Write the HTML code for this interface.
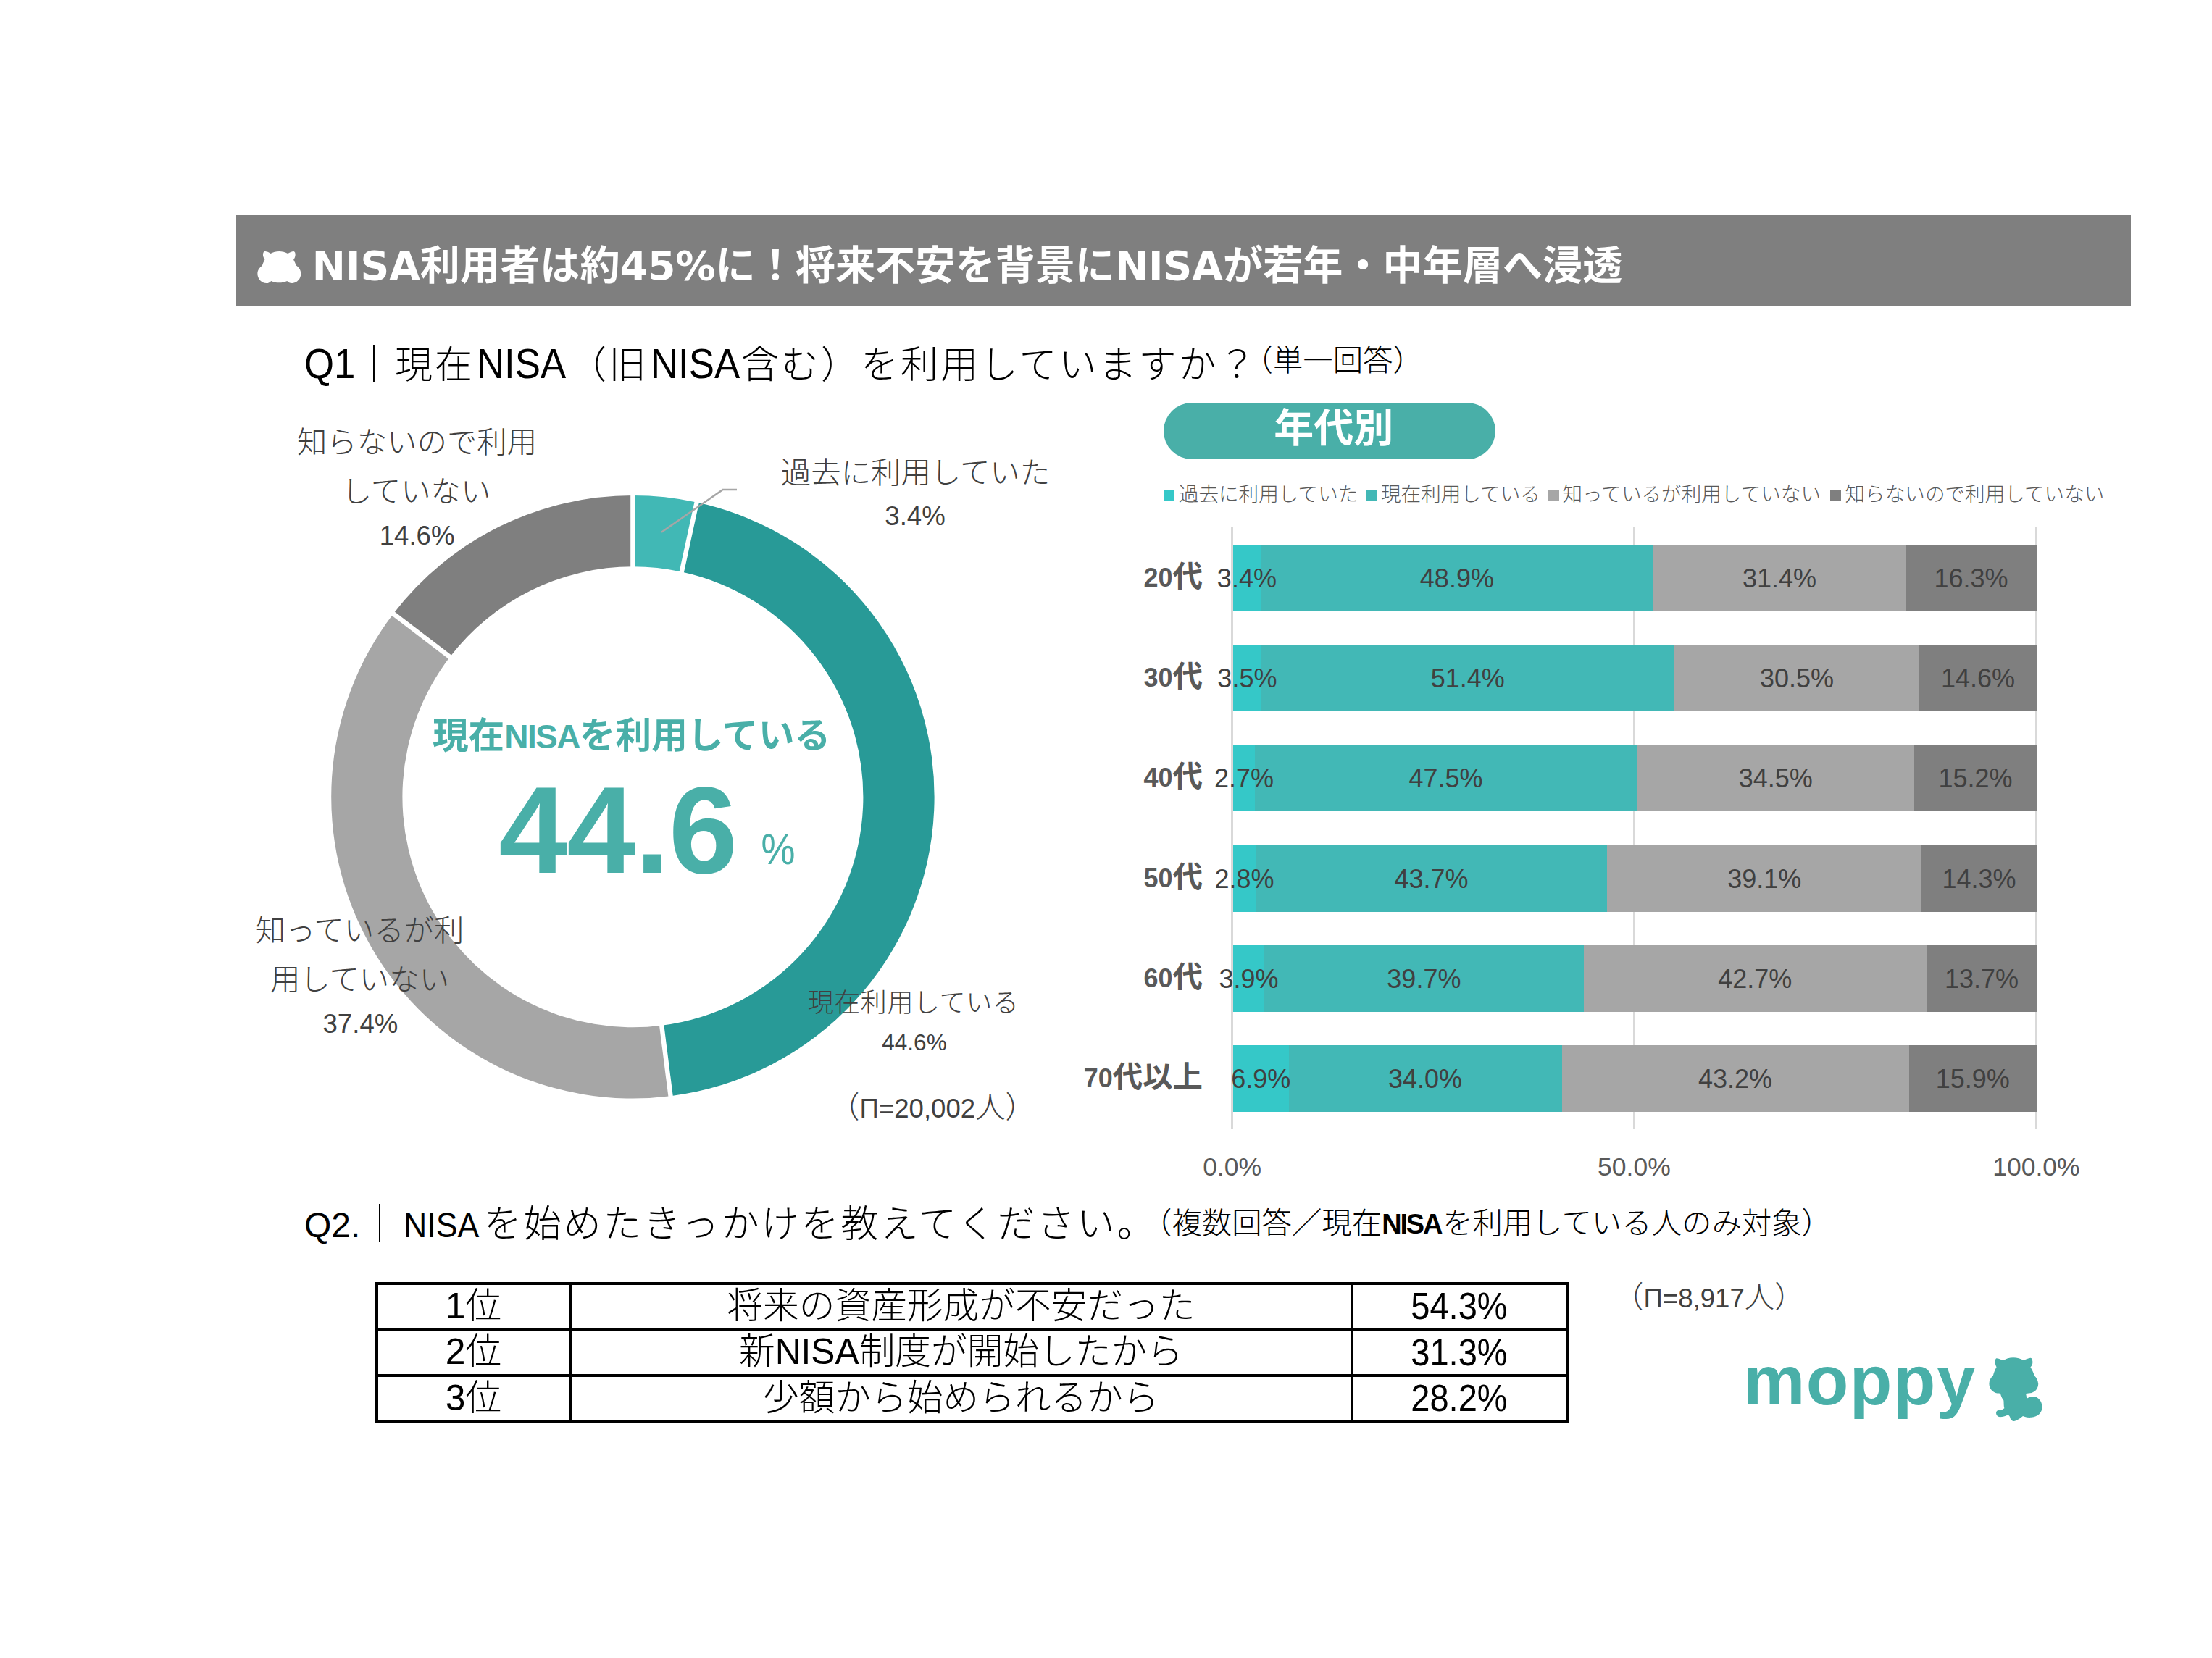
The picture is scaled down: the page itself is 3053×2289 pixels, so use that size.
<!DOCTYPE html><html lang="ja"><head><meta charset="utf-8"><title>NISA利用者調査</title><style>
html,body{margin:0;padding:0;background:#fff;}
body{width:3053px;height:2289px;position:relative;overflow:hidden;font-family:"Liberation Sans","Noto Sans CJK JP",sans-serif;color:#000;}
.a{position:absolute;white-space:nowrap;line-height:1;}
.c{position:absolute;white-space:nowrap;line-height:1;text-align:center;}
.r{position:absolute;white-space:nowrap;line-height:1;text-align:right;}
.lt{font-weight:300;}
.b{font-weight:700;}
.hd{font-family:"DejaVu Sans","Noto Sans CJK JP",sans-serif;font-weight:700;color:#fff;font-size:55px;}
.q{font-weight:300;font-size:52px;letter-spacing:3px;}
.L{display:inline-block;font-size:58px;letter-spacing:0;transform:scaleX(.91);transform-origin:0 50%;white-space:nowrap;}
.L2{display:inline-block;font-size:48px;font-weight:400;letter-spacing:0;transform-origin:0 50%;white-space:nowrap;}
.qs{font-weight:300;font-size:41.4px;}
.dl{font-weight:300;font-size:41.4px;color:#404040;}
.dn{font-weight:400;font-size:36.6px;color:#404040;}
.cat{font-weight:700;font-size:41.4px;color:#595959;}
.cat i{font-style:normal;font-size:36px;}
.v{font-size:36px;color:#404040;}
.ax{font-size:35.5px;color:#595959;}
.lg{font-weight:300;font-size:27.6px;color:#595959;}
.sq{position:absolute;width:14.5px;height:14.5px;}
.bar{position:absolute;height:92px;}
.ln{position:absolute;background:#000;}
.td{font-weight:300;font-size:49.7px;}
</style></head><body>
<div id="hbar" style="position:absolute;left:326px;top:297px;width:2615px;height:125px;background:#7f7f7f;"></div>
<svg id="hicon" style="position:absolute;left:340px;top:330px;" width="100" height="75" viewBox="0 0 100 75"><path fill="#fff" d="M25.3 16.7 C23.6 17.4 22.6 20 23 22.6 C23.4 25 24.3 26.9 25.4 28.4 C23.8 31.2 22.6 34.2 21.7 37.1 C17.6 39.6 15.3 43.6 15.4 48 C15.6 55.3 21 61 27.8 61.1 C30.4 61.1 32.6 59.9 34.2 58 C37.6 59.6 41.3 60.3 45.2 60.3 C49.1 60.3 52.8 59.6 56.3 58 C58 59.9 60.4 61 63.3 60.9 C70 60.6 75.4 55 75.3 47.6 C75.2 43.2 72.8 39.2 68.7 36.6 C67.8 33.8 66.6 31 65.1 28.5 C66.4 26.9 67.4 24.8 67.6 22.3 C67.8 19.6 67.1 17.4 65.6 16.9 C62.6 17.2 59.7 18.3 57.2 19.9 C53.6 18 49.5 17 45.2 17 C41 17 37 18 33.5 19.9 C31 18.2 28.2 17 25.3 16.7 Z"/></svg>
<div id="htitle" class="a hd" style="left:430.8px;top:340px;font-size:55.15px;">NISA利用者は約45%に！将来不安を背景にNISAが若年・中年層へ浸透</div>
<div id="q1" class="a q" style="left:419.5px;top:472.5px;"><span class="L" style="width:70.5px;">Q1</span>｜現在<span class="L" style="width:127px;margin-left:3px;">NISA</span>（旧<span class="L" style="width:125px;margin-left:3px;">NISA</span>含む）を利用していますか？</div>
<div id="q1s" class="a qs" style="left:1715.5px;top:478px;">（単一回答）</div>
<svg id="donut" style="position:absolute;left:0;top:0;" width="3053" height="2289" viewBox="0 0 3053 2289"><path fill="#41b8b5" d="M873.40 684.10 A416.2 416.2 0 0 1 961.64 693.56 L940.82 789.53 A318.0 318.0 0 0 0 873.40 782.30 Z"/><path fill="#289a97" d="M961.64 693.56 A416.2 416.2 0 0 1 925.56 1513.22 L913.26 1415.79 A318.0 318.0 0 0 0 940.82 789.53 Z"/><path fill="#a6a6a6" d="M925.56 1513.22 A416.2 416.2 0 0 1 542.94 847.28 L620.91 906.98 A318.0 318.0 0 0 0 913.26 1415.79 Z"/><path fill="#7f7f7f" d="M542.94 847.28 A416.2 416.2 0 0 1 873.40 684.10 L873.40 782.30 A318.0 318.0 0 0 0 620.91 906.98 Z"/><line x1="873.40" y1="680.10" x2="873.40" y2="786.30" stroke="#fff" stroke-width="6.4"/><line x1="962.49" y1="689.65" x2="939.97" y2="793.44" stroke="#fff" stroke-width="6.4"/><line x1="926.07" y1="1517.19" x2="912.75" y2="1411.82" stroke="#fff" stroke-width="6.4"/><line x1="539.77" y1="844.85" x2="624.09" y2="909.41" stroke="#fff" stroke-width="6.4"/><polyline points="913,734.8 997.6,676 1017,676" fill="none" stroke="#a6a6a6" stroke-width="2.6"/></svg>
<div id="l1a" class="c dl" style="left:225.5px;top:591.0px;width:700px;">知らないので利用</div>
<div id="l1b" class="c dl" style="left:224.5px;top:658.5px;width:700px;">していない</div>
<div id="l1c" class="c dn" style="left:225.6px;top:722.0px;width:700px;">14.6%</div>
<div id="l2a" class="c dl" style="left:913.5px;top:632.5px;width:700px;">過去に利用していた</div>
<div id="l2b" class="c dn" style="left:913.0px;top:695.0px;width:700px;">3.4%</div>
<div id="l3a" class="c dl" style="left:146.5px;top:1265.0px;width:700px;">知っているが利</div>
<div id="l3b" class="c dl" style="left:146.5px;top:1333.0px;width:700px;">用していない</div>
<div id="l3c" class="c dn" style="left:147.4px;top:1396.0px;width:700px;">37.4%</div>
<div id="l4a" class="c dl" style="left:910.5px;top:1367.0px;width:700px;font-size:36px;letter-spacing:0.6px;">現在利用している</div>
<div id="l4b" class="c dn" style="left:912.0px;top:1424.0px;width:700px;font-size:31.5px;">44.6%</div>
<div id="n1" class="c dl" style="left:937.0px;top:1509.0px;width:700px;font-size:41.4px;">（<span style="font-weight:400;font-size:36.6px;">Π=20,002</span>人）</div>
<div id="c1" class="c b" style="left:471.5px;top:992.0px;width:800px;font-size:49.7px;color:#49afa8;">現在<span style="font-size:46px;letter-spacing:-1.6px;">NISA</span>を利用している</div>
<div id="c2" class="c b" style="left:552.7px;top:1060.0px;width:600px;font-size:171px;letter-spacing:-1px;color:#49afa8;">44.6</div>
<div id="c3" class="c " style="left:973.6px;top:1142.5px;width:200px;font-size:60px;transform:scaleX(.88);color:#49afa8;">%</div>
<div id="pill" style="position:absolute;left:1606px;top:556px;width:458px;height:78px;border-radius:39px;background:#49afa8;"></div>
<div id="pillt" class="c b" style="left:1611.8px;top:563.5px;width:458px;font-size:55px;color:#fff;">年代別</div>
<div class="sq" style="left:1606px;top:677.3px;background:#35c8c8;"></div>
<div id="lg0" class="a lg" style="left:1626.8px;top:669px;">過去に利用していた</div>
<div class="sq" style="left:1885px;top:677.3px;background:#42b8b6;"></div>
<div id="lg1" class="a lg" style="left:1906.0px;top:669px;">現在利用している</div>
<div class="sq" style="left:2137px;top:677.3px;background:#a6a6a6;"></div>
<div id="lg2" class="a lg" style="left:2156.5px;top:669px;">知っているが利用していない</div>
<div class="sq" style="left:2526px;top:677.3px;background:#7f7f7f;"></div>
<div id="lg3" class="a lg" style="left:2546.5px;top:669px;">知らないので利用していない</div>
<div style="position:absolute;left:1699.2px;top:728px;width:2.8px;height:830.7px;background:#d9d9d9;"></div>
<div style="position:absolute;left:2254.0px;top:728px;width:2.8px;height:830.7px;background:#d9d9d9;"></div>
<div style="position:absolute;left:2809.0px;top:728px;width:2.8px;height:830.7px;background:#d9d9d9;"></div>
<div class="bar" style="left:1702.0px;top:751.6px;width:38.0px;background:#35c8c8;"></div>
<div class="bar" style="left:1739.7px;top:751.6px;width:542.6px;background:#42b8b6;"></div>
<div class="bar" style="left:2282.0px;top:751.6px;width:348.5px;background:#a6a6a6;"></div>
<div class="bar" style="left:2630.2px;top:751.6px;width:181.1px;background:#7f7f7f;"></div>
<div class="bar" style="left:1702.0px;top:889.9px;width:39.1px;background:#35c8c8;"></div>
<div class="bar" style="left:1740.8px;top:889.9px;width:570.3px;background:#42b8b6;"></div>
<div class="bar" style="left:2310.8px;top:889.9px;width:338.5px;background:#a6a6a6;"></div>
<div class="bar" style="left:2649.1px;top:889.9px;width:162.2px;background:#7f7f7f;"></div>
<div class="bar" style="left:1702.0px;top:1028.2px;width:30.3px;background:#35c8c8;"></div>
<div class="bar" style="left:1732.0px;top:1028.2px;width:527.6px;background:#42b8b6;"></div>
<div class="bar" style="left:2259.3px;top:1028.2px;width:383.3px;background:#a6a6a6;"></div>
<div class="bar" style="left:2642.3px;top:1028.2px;width:169.0px;background:#7f7f7f;"></div>
<div class="bar" style="left:1702.0px;top:1166.5px;width:31.4px;background:#35c8c8;"></div>
<div class="bar" style="left:1733.1px;top:1166.5px;width:485.4px;background:#42b8b6;"></div>
<div class="bar" style="left:2218.2px;top:1166.5px;width:434.4px;background:#a6a6a6;"></div>
<div class="bar" style="left:2652.3px;top:1166.5px;width:159.0px;background:#7f7f7f;"></div>
<div class="bar" style="left:1702.0px;top:1304.8px;width:43.6px;background:#35c8c8;"></div>
<div class="bar" style="left:1745.3px;top:1304.8px;width:440.6px;background:#42b8b6;"></div>
<div class="bar" style="left:2185.5px;top:1304.8px;width:473.8px;background:#a6a6a6;"></div>
<div class="bar" style="left:2659.1px;top:1304.8px;width:152.2px;background:#7f7f7f;"></div>
<div class="bar" style="left:1702.0px;top:1443.1px;width:76.8px;background:#35c8c8;"></div>
<div class="bar" style="left:1778.5px;top:1443.1px;width:377.4px;background:#42b8b6;"></div>
<div class="bar" style="left:2155.6px;top:1443.1px;width:479.4px;background:#a6a6a6;"></div>
<div class="bar" style="left:2634.7px;top:1443.1px;width:176.6px;background:#7f7f7f;"></div>
<div id="v00" class="c v" style="left:1620.9px;top:780.6px;width:200px;">3.4%</div>
<div id="v01" class="c v" style="left:1910.9px;top:780.6px;width:200px;">48.9%</div>
<div id="v02" class="c v" style="left:2356.1px;top:780.6px;width:200px;">31.4%</div>
<div id="v03" class="c v" style="left:2620.6px;top:780.6px;width:200px;">16.3%</div>
<div id="cat0" class="r cat" style="left:1360px;top:775.6px;width:300px;"><i>20</i>代</div>
<div id="v10" class="c v" style="left:1621.4px;top:918.9px;width:200px;">3.5%</div>
<div id="v11" class="c v" style="left:1925.8px;top:918.9px;width:200px;">51.4%</div>
<div id="v12" class="c v" style="left:2380.0px;top:918.9px;width:200px;">30.5%</div>
<div id="v13" class="c v" style="left:2630.0px;top:918.9px;width:200px;">14.6%</div>
<div id="cat1" class="r cat" style="left:1360px;top:913.9px;width:300px;"><i>30</i>代</div>
<div id="v20" class="c v" style="left:1617.0px;top:1057.2px;width:200px;">2.7%</div>
<div id="v21" class="c v" style="left:1895.6px;top:1057.2px;width:200px;">47.5%</div>
<div id="v22" class="c v" style="left:2350.8px;top:1057.2px;width:200px;">34.5%</div>
<div id="v23" class="c v" style="left:2626.6px;top:1057.2px;width:200px;">15.2%</div>
<div id="cat2" class="r cat" style="left:1360px;top:1052.2px;width:300px;"><i>40</i>代</div>
<div id="v30" class="c v" style="left:1617.5px;top:1195.5px;width:200px;">2.8%</div>
<div id="v31" class="c v" style="left:1875.6px;top:1195.5px;width:200px;">43.7%</div>
<div id="v32" class="c v" style="left:2335.2px;top:1195.5px;width:200px;">39.1%</div>
<div id="v33" class="c v" style="left:2631.6px;top:1195.5px;width:200px;">14.3%</div>
<div id="cat3" class="r cat" style="left:1360px;top:1190.5px;width:300px;"><i>50</i>代</div>
<div id="v40" class="c v" style="left:1623.6px;top:1333.8px;width:200px;">3.9%</div>
<div id="v41" class="c v" style="left:1865.4px;top:1333.8px;width:200px;">39.7%</div>
<div id="v42" class="c v" style="left:2322.3px;top:1333.8px;width:200px;">42.7%</div>
<div id="v43" class="c v" style="left:2635.0px;top:1333.8px;width:200px;">13.7%</div>
<div id="cat4" class="r cat" style="left:1360px;top:1328.8px;width:300px;"><i>60</i>代</div>
<div id="v50" class="c v" style="left:1640.3px;top:1472.1px;width:200px;">6.9%</div>
<div id="v51" class="c v" style="left:1867.1px;top:1472.1px;width:200px;">34.0%</div>
<div id="v52" class="c v" style="left:2295.1px;top:1472.1px;width:200px;">43.2%</div>
<div id="v53" class="c v" style="left:2622.8px;top:1472.1px;width:200px;">15.9%</div>
<div id="cat5" class="r cat" style="left:1360px;top:1467.1px;width:300px;"><i>70</i>代以上</div>
<div class="c ax" style="left:1600.6px;top:1593.5px;width:200px;">0.0%</div>
<div class="c ax" style="left:2155.4px;top:1593.5px;width:200px;">50.0%</div>
<div class="c ax" style="left:2710.4px;top:1593.5px;width:200px;">100.0%</div>
<div id="q2" class="a q" style="left:420px;top:1664px;"><span class="L2" style="width:78px;">Q2.</span>｜<span class="L2" style="width:111px;margin-left:3.7px;transform:scaleX(.93);">NISA</span>を始めたきっかけを教えてください。</div>
<div id="q2s" class="a qs" style="left:1576px;top:1669px;">（複数回答／現在<span style="font-weight:700;font-size:38px;letter-spacing:-2.2px;">NISA</span><span style="margin-left:2px;">を</span>利用している人のみ対象）</div>
<div class="ln" style="left:518.2px;top:1770.3px;width:4px;height:193.9px;"></div>
<div class="ln" style="left:784.8px;top:1770.3px;width:4px;height:193.9px;"></div>
<div class="ln" style="left:1864.0px;top:1770.3px;width:4px;height:193.9px;"></div>
<div class="ln" style="left:2161.8px;top:1770.3px;width:4px;height:193.9px;"></div>
<div class="ln" style="left:518.2px;top:1770.3px;width:1647.6px;height:4px;"></div>
<div class="ln" style="left:518.2px;top:1833.6px;width:1647.6px;height:4px;"></div>
<div class="ln" style="left:518.2px;top:1896.9px;width:1647.6px;height:4px;"></div>
<div class="ln" style="left:518.2px;top:1960.2px;width:1647.6px;height:4px;"></div>
<div id="t0a" class="c td" style="left:523.5px;top:1778.9px;width:260px;">1位</div>
<div id="t0b" class="c td" style="left:791.4px;top:1778.9px;width:1070px;">将来の資産形成が不安だった</div>
<div id="t0c" class="c td" style="left:1868.9px;top:1777.4px;width:290px;font-size:52px;transform:scaleX(.905);">54.3%</div>
<div id="t1a" class="c td" style="left:523.5px;top:1842.2px;width:260px;">2位</div>
<div id="t1b" class="c td" style="left:791.4px;top:1842.2px;width:1070px;">新NISA制度が開始したから</div>
<div id="t1c" class="c td" style="left:1868.9px;top:1840.8px;width:290px;font-size:52px;transform:scaleX(.905);">31.3%</div>
<div id="t2a" class="c td" style="left:523.5px;top:1905.6px;width:260px;">3位</div>
<div id="t2b" class="c td" style="left:791.4px;top:1905.6px;width:1070px;">少額から始められるから</div>
<div id="t2c" class="c td" style="left:1868.9px;top:1904.1px;width:290px;font-size:52px;transform:scaleX(.905);">28.2%</div>
<div id="n2" class="c dl" style="left:2158.8px;top:1771.0px;width:400px;font-size:41.4px;">（<span style="font-weight:400;font-size:36.6px;">Π=8,917</span>人）</div>
<div id="logo" class="a b" style="left:2406px;top:1857.5px;font-size:96px;color:#49afa8;letter-spacing:1.4px;">moppy</div>
<svg id="mascot" style="position:absolute;left:2735px;top:1865px;" width="100" height="105" viewBox="0 0 1579 1658"><path fill="#49afa8" d="M320 160 C300 170 280 240 300 290 C308 320 318 340 325 350 C290 410 265 480 250 540 C190 590 165 650 165 720 C165 830 250 910 340 925 C370 930 395 930 410 930 C425 990 450 1040 480 1080 C485 1140 480 1200 495 1250 C460 1275 430 1290 400 1300 C370 1285 335 1295 320 1330 C305 1380 340 1435 400 1440 C460 1440 510 1420 560 1400 C590 1395 610 1420 620 1450 C630 1500 660 1530 700 1530 C770 1525 850 1460 900 1420 C960 1445 1020 1455 1080 1450 C1230 1440 1320 1340 1320 1220 C1315 1100 1240 1000 1130 995 C1070 995 1020 1015 985 1040 C980 1000 970 960 965 930 C1000 925 1050 925 1090 915 C1180 890 1235 810 1235 720 C1230 650 1200 585 1150 540 C1130 470 1100 410 1065 355 C1100 320 1115 280 1110 230 C1105 180 1090 155 1065 155 C1010 165 960 185 920 210 C850 165 770 145 690 145 C610 145 530 170 465 210 C420 185 370 160 320 160 Z"/></svg>
</body></html>
